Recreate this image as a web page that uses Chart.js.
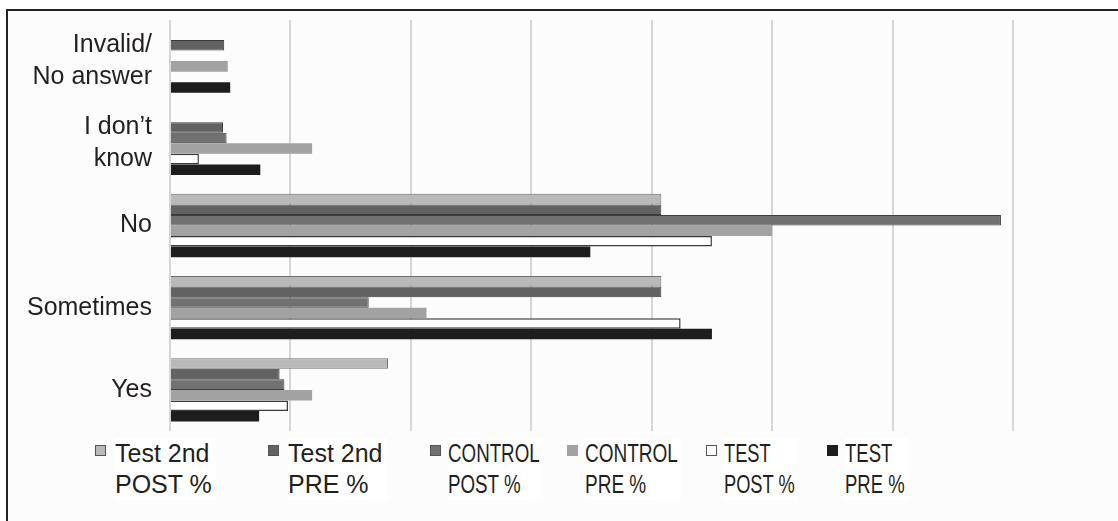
<!DOCTYPE html>
<html>
<head>
<meta charset="utf-8">
<script src="https://cdn.jsdelivr.net/npm/chart.js@4/dist/chart.umd.min.js"></script>
<style>
  html, body { margin: 0; padding: 0; background: #fff; }
  #quadro { position: absolute; left: 6px; top: 9px; width: 1112px; height: 512px; border-top: 2px solid #222; border-left: 2px solid #222; background: #fcfcfc; }
  #wrap { position: absolute; left: 0; top: 0; width: 1118px; height: 440px; }
  #legenda { position: absolute; left: 0; top: 438px; width: 1118px; height: 83px; font-family: 'Liberation Sans', Arial, sans-serif; font-size: 25px; line-height: 31px; color: #231f20; }
  .item { position: absolute; top: 0; }
  .caixa { position: absolute; top: 7px; left: 0; width: 9px; height: 9px; }
  .texto { position: absolute; top: 0; white-space: nowrap; transform-origin: left top; background: #fff; padding-right: 4px; }
</style>
</head>
<body>
<div id="quadro"></div>
<div id="wrap"><canvas id="grafico"></canvas></div>
<div id="legenda"></div>

<script>
// categorias (de cima para baixo, como no original)
const categorias = [['Invalid/', 'No answer'], ['I don\u2019t', 'know'], 'No', 'Sometimes', 'Yes'];

// valores em %
const test2ndPost = [0, 0, 40.8, 40.8, 18.1];
const test2ndPre  = [4.5, 4.4, 40.8, 40.8, 9.1];
const controlPost = [0, 4.7, 69.0, 16.5, 9.5];
const controlPre  = [4.8, 11.8, 50.0, 21.3, 11.8];
const testPost    = [0, 2.4, 45.0, 42.4, 9.8];
const testPre     = [5.0, 7.5, 34.9, 45.0, 7.4];

const nomesSeries = ['Test 2nd POST %', 'Test 2nd PRE %', 'CONTROL POST %', 'CONTROL PRE %', 'TEST POST %', 'TEST PRE %'];

// eixo x: 0 a 70, linhas a cada 10 (sem rótulos na figura)
const eixoMin = 0;
const eixoMax = 70;
const eixoPasso = 10;

var fonte = { family: "'Liberation Sans', Arial, sans-serif", size: 25 };

var dados = {
  labels: categorias,
  datasets: [
    { label: nomesSeries[0], data: test2ndPost, backgroundColor: '#b9b9b9', borderColor: '#6e6e6e', borderWidth: 1 },
    { label: nomesSeries[1], data: test2ndPre,  backgroundColor: '#626262', borderColor: '#3a3a3a', borderWidth: 1 },
    { label: nomesSeries[2], data: controlPost, backgroundColor: '#717171', borderColor: '#3e3e3e', borderWidth: 1 },
    { label: nomesSeries[3], data: controlPre,  backgroundColor: '#a2a2a2', borderColor: '#a2a2a2', borderWidth: 0 },
    { label: nomesSeries[4], data: testPost,    backgroundColor: '#ffffff', borderColor: '#3a3a3a', borderWidth: 1.5 },
    { label: nomesSeries[5], data: testPre,     backgroundColor: '#1d1d1d', borderColor: '#1d1d1d', borderWidth: 0 }
  ]
};

var opcoes = {
  indexAxis: 'y',
  responsive: true,
  maintainAspectRatio: false,
  animation: false,
  layout: { padding: { left: 0, top: 20, right: 105, bottom: 9 } },
  datasets: { bar: { categoryPercentage: 0.77, barPercentage: 1.0 } },
  scales: {
    x: {
      min: eixoMin,
      max: eixoMax,
      ticks: { display: false, stepSize: eixoPasso },
      grid: { color: '#d6d6d6', lineWidth: 2, drawTicks: false },
      border: { display: false },
      afterFit: function (s) { s.height = 0; s.paddingLeft = 0; s.paddingRight = 0; }
    },
    y: {
      ticks: { color: '#231f20', font: fonte, padding: 18 },
      grid: { display: false, drawTicks: false },
      border: { display: false },
      // largura fixa do eixo e sem folga extra dos rótulos de duas linhas
      afterFit: function (s) { s.width = 170; s.paddingTop = 0; s.paddingBottom = 0; }
    }
  },
  plugins: {
    legend: { display: false },
    tooltip: { enabled: false }
  }
};

Chart.defaults.font.lineHeight = 1.28;

const grafico = new Chart(document.getElementById('grafico'), {
  type: 'bar',
  data: dados,
  options: opcoes
});

// legenda em html, com duas linhas por item
const legendaX = [95, 268, 430, 567, 706, 827];
const legendaEscala = [1, 1, 0.75, 0.76, 0.73, 0.74];
const legenda = document.getElementById('legenda');
grafico.data.datasets.forEach(function (ds, i) {
  const item = document.createElement('div');
  item.className = 'item';
  item.style.left = legendaX[i] + 'px';
  const caixa = document.createElement('div');
  caixa.className = 'caixa';
  caixa.style.background = ds.backgroundColor;
  caixa.style.border = '1.5px solid ' + (i === 3 ? '#a2a2a2' : (i === 5 ? '#1d1d1d' : '#555'));
  const texto = document.createElement('div');
  texto.className = 'texto';
  texto.style.left = (i < 2 ? 20 : 18) + 'px';
  texto.style.transform = 'scaleX(' + legendaEscala[i] + ')';
  texto.innerHTML = ds.label.replace(/ (POST|PRE)/, '<br>$1');
  item.appendChild(caixa);
  item.appendChild(texto);
  legenda.appendChild(item);
});
</script>
</body>
</html>
